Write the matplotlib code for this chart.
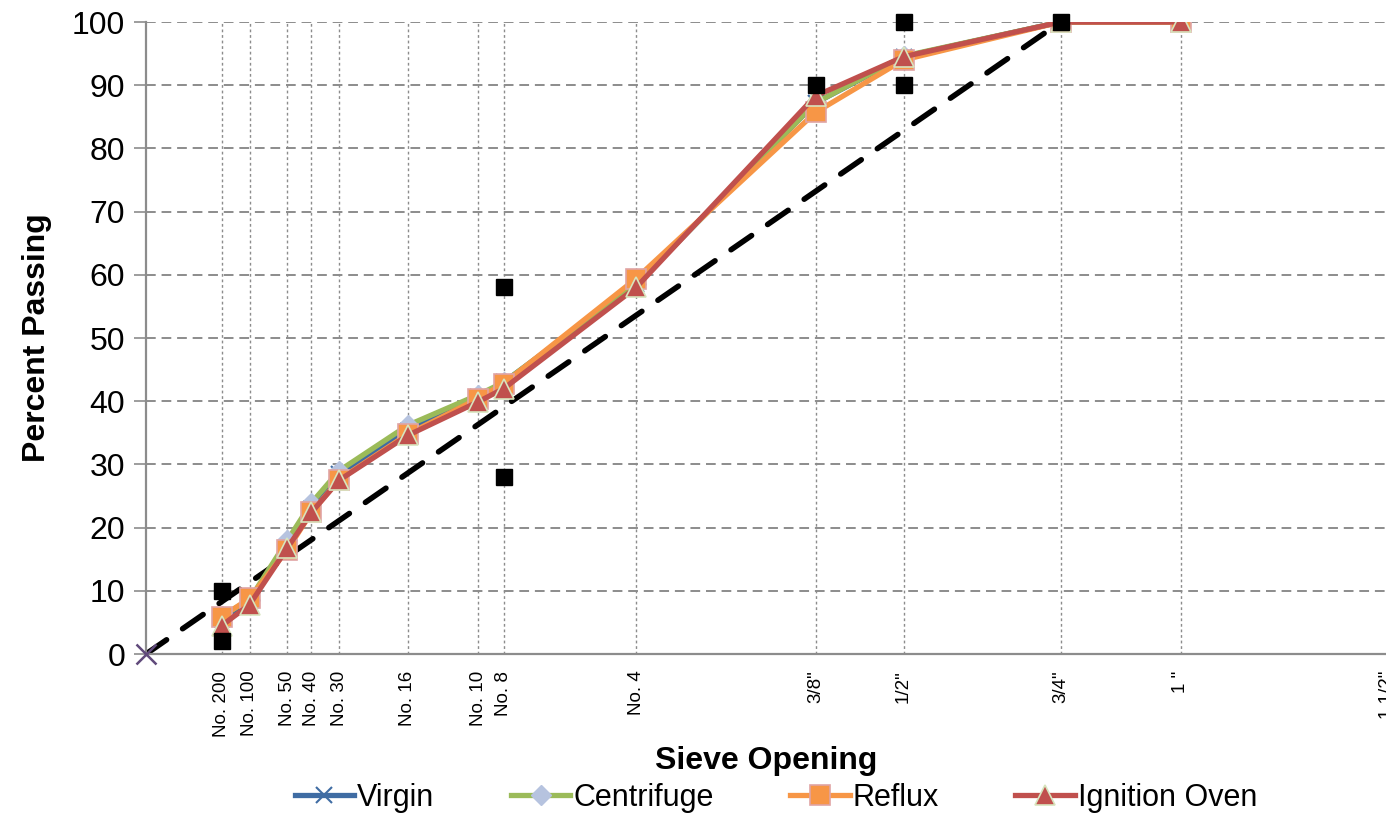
import numpy as np
import matplotlib
matplotlib.use("Agg")
import matplotlib.pyplot as plt

plt.rcParams['font.family'] = ['Liberation Sans', 'DejaVu Sans']

# sieve sizes (mm) and labels
sieve_mm = [0.075, 0.15, 0.3, 0.425, 0.6, 1.18, 2.0, 2.36, 4.75, 9.5, 12.5, 19.0, 25.0, 37.5]
sieve_labels = ['No. 200', 'No. 100', 'No. 50', 'No. 40', 'No. 30', 'No. 16', 'No. 10',
                'No. 8', 'No. 4', '3/8"', '1/2"', '3/4"', '1 "', '1 1/2"']

# percent passing for each sieve up to 1"
virgin = [5.5, 8.5, 17.0, 23.0, 28.5, 35.3, 40.7, 43.0, 58.5, 87.2, 94.5, 100, 100]
centrifuge = [6.0, 8.6, 18.0, 23.9, 29.0, 36.2, 41.0, 43.0, 58.5, 87.2, 94.6, 100, 100]
reflux = [5.9, 8.8, 16.5, 22.4, 27.6, 34.8, 40.4, 42.8, 59.4, 85.7, 94.0, 100, 100]
ignition = [4.5, 7.8, 16.8, 22.4, 27.5, 34.6, 39.9, 42.0, 58.0, 88.3, 94.5, 100, 100]

# control points (sieve mm, percent)
ctrl_mm = [0.075, 0.075, 2.36, 2.36, 9.5, 12.5, 12.5, 19.0]
ctrl_pct = [2, 10, 28, 58, 90, 90, 100, 100]

# maximum density line
maxden_mm = [0.0, 19.0]
maxden_pct = [0, 100]


def p45(v):
    return np.power(np.asarray(v, dtype=float), 0.45)


fig = plt.figure(figsize=(13.86, 8.18), dpi=100)
ax = fig.add_axes([146 / 1386, 1 - 654 / 818, 1242 / 1386, (654 - 22) / 818])

xs = p45(sieve_mm)
grey = '#8c8c8c'

# grid
for x in xs:
    ax.axvline(x, color=grey, lw=1.0, ls=(0, (2, 2)), zorder=0)
for y in range(10, 101, 10):
    ax.axhline(y, color=grey, lw=1.4, ls=(0, (5, 3)), zorder=0)

ax.plot(p45(maxden_mm), maxden_pct, color='black', lw=4, ls=(0, (4.5, 3.5)),
        dash_capstyle='round', zorder=2)
ax.plot([0], [0], 'x', color='#604a7b', ms=14, mew=1.8, zorder=9, clip_on=False)

n = len(virgin)
ax.plot(xs[:n], virgin, color='#3f6ca3', lw=3.8, marker='x', ms=12, mew=1.5,
        mec='#3f6ca3', label='Virgin', zorder=4)
ax.plot(xs[:n], centrifuge, color='#9bbb59', lw=3.8, marker='D', ms=10,
        mfc='#b6c3df', mec='#b6c3df', label='Centrifuge', zorder=5)
ax.plot(xs[:n], reflux, color='#f79646', lw=3.8, marker='s', ms=14,
        mfc='#f79646', mec='#e0a4a4', mew=1.2, label='Reflux', zorder=6)
ax.plot(xs[:n], ignition, color='#c0504d', lw=3.8, marker='^', ms=14,
        mfc='#c0504d', mec='#d7e4bd', mew=1.2, label='Ignition Oven', zorder=7)

ax.plot(p45(ctrl_mm), ctrl_pct, 's', color='black', ms=11, ls='none', zorder=8,
        clip_on=False)

ax.set_xlim(0, p45(37.5))
ax.set_ylim(0, 100)
ax.set_xticks(xs)
ax.set_xticklabels(sieve_labels, rotation=90, fontsize=13.5, va='top')
ax.tick_params(axis='x', length=0, pad=12)
ax.set_yticks(range(0, 101, 10))
ax.tick_params(axis='y', labelsize=23, length=9, width=1.2, color=grey, direction='out', pad=6)

for s in ['top', 'right']:
    ax.spines[s].set_visible(False)
for s in ['left', 'bottom']:
    ax.spines[s].set_color(grey)
    ax.spines[s].set_linewidth(1.6)

ax.set_ylabel('Percent Passing', fontsize=23, fontweight='bold', labelpad=14)
ax.set_xlabel('Sieve Opening', fontsize=23, fontweight='bold')
ax.xaxis.label.set_verticalalignment('center')
ax.xaxis.set_label_coords((766 - 146) / 1242, -(761 - 654) / 632)

ax.legend(loc='center', bbox_to_anchor=((776 - 146) / 1242, -(798 - 654) / 632),
          ncol=4, frameon=False, fontsize=22, handlelength=1.95, handletextpad=0.1,
          columnspacing=2.5, borderaxespad=0)

fig.savefig('out.png', dpi=100)
